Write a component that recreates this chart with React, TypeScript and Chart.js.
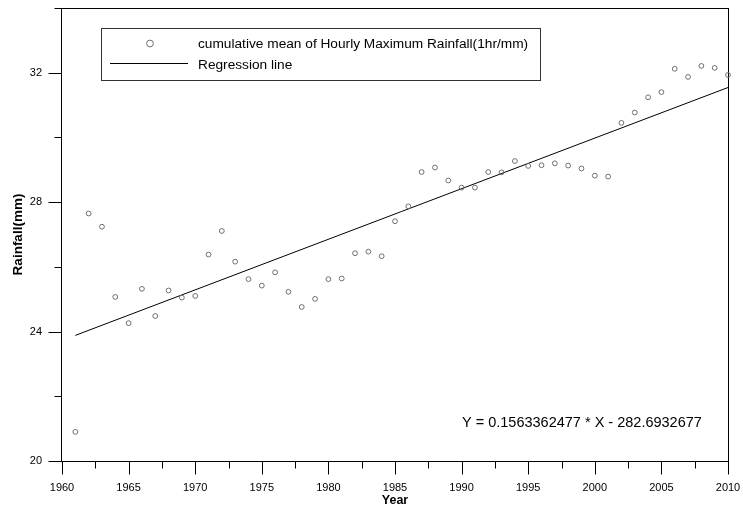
import React, { useEffect, useRef } from "react";
import { Chart, registerables } from "chart.js";

Chart.register(...registerables);

const years = [
  1961, 1962, 1963, 1964, 1965, 1966, 1967, 1968, 1969, 1970,
  1971, 1972, 1973, 1974, 1975, 1976, 1977, 1978, 1979, 1980,
  1981, 1982, 1983, 1984, 1985, 1986, 1987, 1988, 1989, 1990,
  1991, 1992, 1993, 1994, 1995, 1996, 1997, 1998, 1999, 2000,
  2001, 2002, 2003, 2004, 2005, 2006, 2007, 2008, 2009, 2010,
];
const rainfall = [
  20.9, 27.65, 27.24, 25.07, 24.26, 25.32, 24.48, 25.27, 25.05, 25.1,
  26.38, 27.11, 26.16, 25.62, 25.42, 25.83, 25.23, 24.76, 25.01, 25.62,
  25.64, 26.42, 26.47, 26.33, 27.41, 27.87, 28.93, 29.07, 28.67, 28.45,
  28.45, 28.93, 28.92, 29.27, 29.12, 29.14, 29.2, 29.13, 29.04, 28.82,
  28.79, 30.45, 30.77, 31.24, 31.4, 32.12, 31.87, 32.21, 32.15, 31.93,
];
const regressionYears = [1961, 2010];
const regressionValues = [23.8821, 31.5426];

const seriesLabel = "cumulative mean of Hourly Maximum Rainfall(1hr/mm)";
const regressionLabel = "Regression line";
const equationText = "Y = 0.1563362477 * X - 282.6932677";
const xTitle = "Year";
const yTitle = "Rainfall(mm)";

const FONT = "'Liberation Sans', Arial, sans-serif";

const framePlugin = {
  id: "frameTicks",
  beforeDatasetsDraw(chart: any) {
    const { ctx, chartArea } = chart;
    const { left, right, top, bottom } = chartArea;
    ctx.save();
    ctx.strokeStyle = "#000";
    ctx.lineWidth = 1;
    ctx.strokeRect(left - 0.5, top + 0.5, right - left + 1, bottom - top);
    const xs = chart.scales.x;
    ctx.beginPath();
    xs.ticks.forEach((t: any) => {
      const px = Math.round(xs.getPixelForValue(t.value)) + 0.5;
      const len = Math.abs(t.value % 5) < 1e-6 ? 13 : 7;
      ctx.moveTo(px, bottom + 0.5);
      ctx.lineTo(px, bottom + 0.5 + len);
    });
    const ys = chart.scales.y;
    ys.ticks.forEach((t: any) => {
      const py = Math.round(ys.getPixelForValue(t.value)) + 0.5;
      const len = Math.abs(t.value % 4) < 1e-6 ? 13 : 7;
      ctx.moveTo(left - 0.5, py);
      ctx.lineTo(left - 0.5 - len, py);
    });
    ctx.stroke();
    ctx.restore();
  },
  afterDraw(chart: any) {
    const { ctx } = chart;
    const ds0 = chart.data.datasets[0];
    const ds1 = chart.data.datasets[1];
    ctx.save();
    ctx.strokeStyle = "#333";
    ctx.lineWidth = 1;
    ctx.strokeRect(101.5, 28.5, 439, 52);
    ctx.beginPath();
    ctx.strokeStyle = ds0.borderColor;
    ctx.arc(150, 43.5, 3.4, 0, Math.PI * 2);
    ctx.stroke();
    ctx.beginPath();
    ctx.strokeStyle = ds1.borderColor;
    ctx.moveTo(110, 63.5);
    ctx.lineTo(188, 63.5);
    ctx.stroke();
    ctx.fillStyle = "#000";
    ctx.textBaseline = "alphabetic";
    ctx.textAlign = "left";
    ctx.font = `13.7px ${FONT}`;
    ctx.fillText(ds0.label, 198, 48);
    ctx.fillText(ds1.label, 198, 68.5);
    ctx.font = `14.5px ${FONT}`;
    ctx.fillText(equationText, 462, 427.3);
    ctx.restore();
  },
};

export default function App() {
  const ref = useRef<HTMLCanvasElement | null>(null);
  useEffect(() => {
    if (!ref.current) return;
    const chart = new Chart(ref.current, {
      type: "scatter",
      data: {
        datasets: [
          {
            label: seriesLabel,
            data: years.map((y, i) => ({ x: y, y: rainfall[i] })),
            pointStyle: "circle",
            pointRadius: 2.4,
            pointBorderWidth: 1,
            borderColor: "#6e6e6e",
            pointBorderColor: "#6e6e6e",
            pointBackgroundColor: "rgba(255,255,255,0)",
            backgroundColor: "rgba(255,255,255,0)",
            showLine: false,
            clip: false as any,
          },
          {
            label: regressionLabel,
            data: regressionYears.map((y, i) => ({ x: y, y: regressionValues[i] })),
            showLine: true,
            borderColor: "#000",
            borderWidth: 1,
            pointRadius: 0,
            fill: false,
          },
        ],
      },
      options: {
        responsive: false,
        animation: false,
        devicePixelRatio: 1,
        events: [],
        layout: { padding: { top: 8, right: 15, left: 0, bottom: 0 } },
        plugins: {
          legend: { display: false },
          tooltip: { enabled: false },
        },
        scales: {
          x: {
            type: "linear",
            min: 1960,
            max: 2010,
            grid: { display: false },
            border: { display: false },
            ticks: {
              stepSize: 2.5,
              autoSkip: false,
              maxRotation: 0,
              padding: 12,
              color: "#000",
              font: { family: FONT, size: 11 },
              callback: (v: any) => (Math.abs(v % 5) < 1e-6 ? String(v) : ""),
            },
            title: {
              display: true,
              text: xTitle,
              color: "#000",
              font: { family: FONT, size: 12.5, weight: "bold" },
              padding: { top: 0, bottom: 1 },
            },
            afterFit: (s: any) => {
              s.height = 48;
              s.paddingLeft = 0;
              s.paddingRight = 0;
            },
          },
          y: {
            type: "linear",
            min: 20,
            max: 34,
            grid: { display: false },
            border: { display: false },
            ticks: {
              stepSize: 2,
              autoSkip: false,
              padding: 12,
              color: "#000",
              font: { family: FONT, size: 11 },
              callback: (v: any) => (Math.abs(v % 4) < 1e-6 ? String(v) : ""),
            },
            title: {
              display: true,
              text: yTitle,
              color: "#000",
              font: { family: FONT, size: 13.5, weight: "bold" },
              padding: { top: 10, bottom: 0 },
            },
            afterFit: (s: any) => {
              s.width = 62;
              s.paddingTop = 0;
              s.paddingBottom = 0;
            },
          },
        },
      },
      plugins: [framePlugin],
    });
    return () => chart.destroy();
  }, []);
  return (
    <div style={{ position: "absolute", left: 0, top: 0, width: 743, height: 509, background: "#fff" }}>
      <canvas ref={ref} width={743} height={509} style={{ display: "block" }} />
    </div>
  );
}
